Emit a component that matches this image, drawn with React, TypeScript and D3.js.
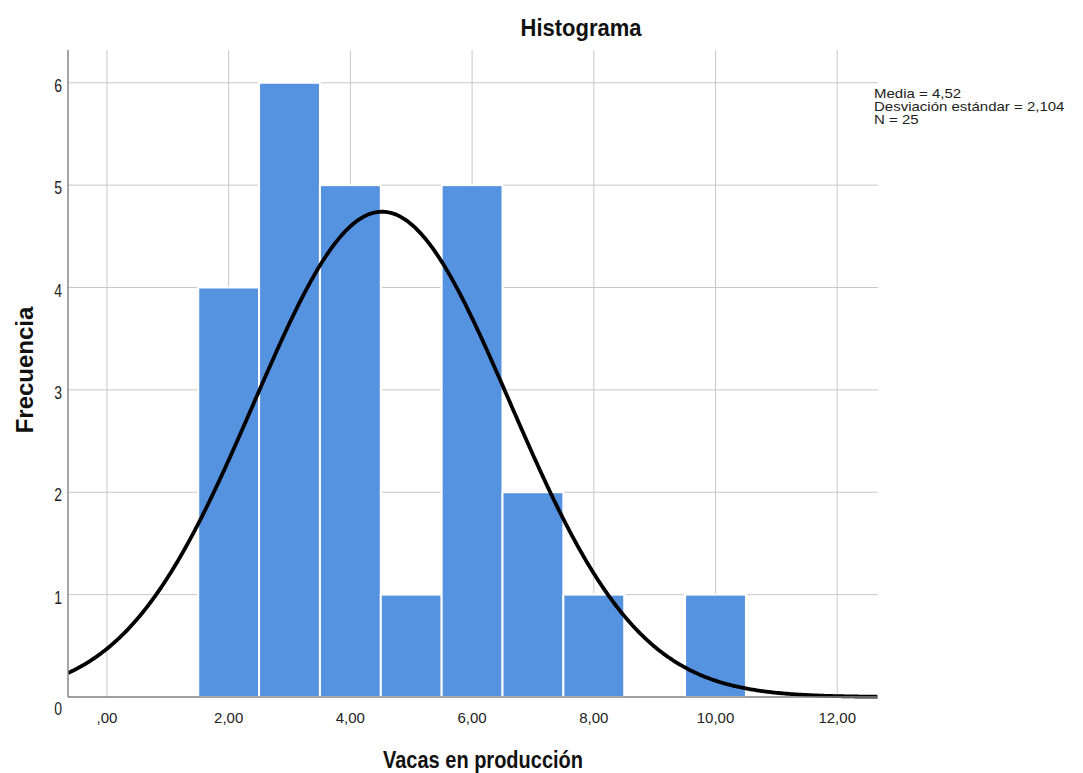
import React from "react";
import * as d3 from "d3";

const binStarts = [1.5, 2.5, 3.5, 4.5, 5.5, 6.5, 7.5, 9.5];
const binCounts = [4, 6, 5, 1, 5, 2, 1, 1];
const binWidth = 1;
const xTicks = [0, 2, 4, 6, 8, 10, 12];
const xTickLabels = [",00", "2,00", "4,00", "6,00", "8,00", "10,00", "12,00"];
const yTicks = [0, 1, 2, 3, 4, 5, 6];
const statsMean = 4.52;
const statsSd = 2.104;
const statsN = 25;
const legendLines = ["Media = 4,52", "Desviación estándar = 2,104", "N = 25"];

const W = 1083;
const H = 773;
const left = 68;
const right = 878;
const top = 50;
const bottom = 697;

export default function App() {
  const x = d3.scaleLinear().domain([-0.64, 12.67]).range([left, right]);
  const y = d3.scaleLinear().domain([0, 6.32]).range([bottom, top]);

  const curveXs = d3.range(-0.64, 12.67 + 0.001, 0.02);
  const pdf = (v: number) =>
    ((statsN * binWidth) / (statsSd * Math.sqrt(2 * Math.PI))) *
    Math.exp(-0.5 * ((v - statsMean) / statsSd) ** 2);
  const line = d3
    .line<number>()
    .x((d) => x(d))
    .y((d) => y(pdf(d)));

  const font = "'Liberation Sans', Arial, sans-serif";
  const gridColor = "#c8c8c8";

  return (
    <svg width={W} height={H} style={{ position: "absolute", left: 0, top: 0, background: "#fff" }}>
      <rect x={0} y={0} width={W} height={H} fill="#fff" />
      {xTicks.map((t) => (
        <line key={"gx" + t} x1={x(t)} x2={x(t)} y1={top} y2={bottom} stroke={gridColor} strokeWidth={1} />
      ))}
      {yTicks.map((t) => (
        <line key={"gy" + t} x1={left} x2={right} y1={y(t)} y2={y(t)} stroke={gridColor} strokeWidth={1} />
      ))}
      {binStarts.map((s, i) => (
        <rect
          key={"b" + i}
          x={x(s)}
          y={y(binCounts[i])}
          width={x(s + binWidth) - x(s)}
          height={y(0) - y(binCounts[i])}
          fill="#5592e0"
          stroke="#ffffff"
          strokeWidth={2}
        />
      ))}
      <clipPath id="plotclip">
        <rect x={left} y={top} width={right - left} height={bottom - top + 2} />
      </clipPath>
      <path d={line(curveXs) || ""} fill="none" stroke="#000" strokeWidth={3.8} clipPath="url(#plotclip)" />
      <line x1={left} x2={left} y1={top} y2={bottom} stroke="#888" strokeWidth={1.5} />
      <line x1={left} x2={right} y1={bottom} y2={bottom} stroke="#888" strokeWidth={1.5} />
      {yTicks.map((t) => (
        <text
          key={"yl" + t}
          transform={`translate(${left - 6}, ${t === 0 ? bottom + 18 : y(t) + 9}) scale(1, 1.25)`}
          textAnchor="end"
          fontFamily={font}
          fontSize={14}
          fill="#222"
        >
          {t}
        </text>
      ))}
      {xTicks.map((t, i) => (
        <text key={"xl" + t} x={x(t)} y={bottom + 26} textAnchor="middle" fontFamily={font} fontSize={15} fill="#222">
          {xTickLabels[i]}
        </text>
      ))}
      <text
        transform="translate(581, 36) scale(1, 1.12)"
        textAnchor="middle"
        fontFamily={font}
        fontSize={22}
        fontWeight="bold"
        fill="#111"
      >
        Histograma
      </text>
      <text
        transform="translate(483, 768) scale(1, 1.15)"
        textAnchor="middle"
        fontFamily={font}
        fontSize={20}
        fontWeight="bold"
        fill="#111"
      >
        Vacas en producción
      </text>
      <text
        transform={`translate(33, 370) rotate(-90)`}
        textAnchor="middle"
        fontFamily={font}
        fontSize={24}
        fontWeight="bold"
        fill="#111"
      >
        Frecuencia
      </text>
      <g transform="translate(874, 0) scale(1.2, 1)">
        {legendLines.map((l, i) => (
          <text key={"lg" + i} x={0} y={98 + i * 13} fontFamily={font} fontSize={12.5} fill="#222">
            {l}
          </text>
        ))}
      </g>
    </svg>
  );
}
